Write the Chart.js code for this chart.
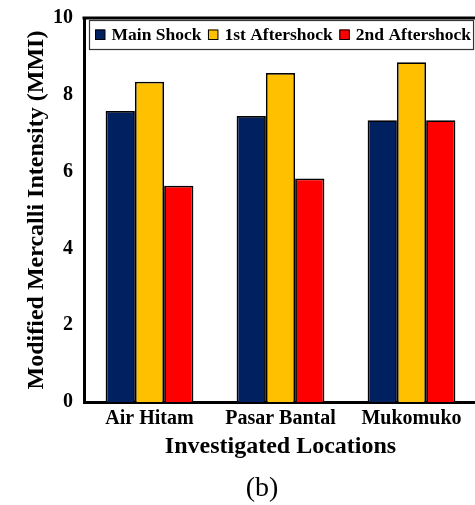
<!DOCTYPE html>
<html>
<head>
<meta charset="utf-8">
<script src="https://cdn.jsdelivr.net/npm/chart.js@4"></script>
<style>
  html, body { margin: 0; padding: 0; background: #fff; overflow: hidden; }
  #wrap { width: 480px; height: 505px; }
</style>
</head>
<body>
<div id="wrap"><canvas id="c" width="480" height="505"></canvas></div>
<script>
// Intensity at each investigated location
const locations = ['Air Hitam', 'Pasar Bantal', 'Mukomuko'];
const mainShock = [7.58, 7.45, 7.34];
const firstAftershock = [8.34, 8.57, 8.85];
const secondAftershock = [5.63, 5.82, 7.34];
const yTicks = [0, 2, 4, 6, 8, 10];

const SERIF = '"Liberation Serif", "Times New Roman", serif';
const serifBold = { family: SERIF, weight: 'bold' };

// Framed legend inside the plot, the top frame line and the panel caption
const frameLegend = {
  id: 'frameLegend',
  afterDraw(chart) {
    const { ctx, chartArea } = chart;
    ctx.save();
    // top border of the plot frame
    ctx.strokeStyle = '#000';
    ctx.lineWidth = 3;
    ctx.beginPath();
    ctx.moveTo(chartArea.left - 1.5, chartArea.top);
    ctx.lineTo(chartArea.right, chartArea.top);
    ctx.stroke();

    // legend box
    const x0 = chartArea.left + 5, y0 = chartArea.top + 2;
    const h = 29;
    ctx.font = 'bold 17.5px ' + SERIF;
    ctx.textBaseline = 'middle';
    const items = chart.data.datasets.map(ds => ({ label: ds.label, color: ds.backgroundColor }));
    let x = x0 + 6;
    const positions = [];
    items.forEach(it => {
      positions.push(x);
      x += 10 + 6.5 + ctx.measureText(it.label).width + 6.5;
    });
    const w = x - 6.5 + 2 - x0;
    ctx.fillStyle = '#fff';
    ctx.fillRect(x0, y0, w, h);
    ctx.lineWidth = 1.2;
    ctx.strokeStyle = '#333';
    ctx.strokeRect(x0 + 0.5, y0 + 0.5, w, h);
    items.forEach((it, i) => {
      const px = positions[i];
      const cy = y0 + h / 2;
      ctx.fillStyle = it.color;
      ctx.fillRect(px, cy - 5, 10, 10);
      ctx.lineWidth = 1;
      ctx.strokeStyle = '#000';
      ctx.strokeRect(px + 0.5, cy - 5 + 0.5, 9.5, 9.5);
      ctx.fillStyle = '#000';
      ctx.fillText(it.label, px + 16.5, cy + 1);
    });

    // panel caption
    ctx.font = 'normal 28px ' + SERIF;
    ctx.textAlign = 'center';
    ctx.textBaseline = 'alphabetic';
    ctx.fillStyle = '#000';
    ctx.fillText('(b)', 262, 496);
    ctx.restore();
  }
};

new Chart(document.getElementById('c'), {
  type: 'bar',
  data: {
    labels: locations,
    datasets: [
      { label: 'Main Shock', data: mainShock, backgroundColor: '#002060' },
      { label: '1st Aftershock', data: firstAftershock, backgroundColor: '#FFC000' },
      { label: '2nd Aftershock', data: secondAftershock, backgroundColor: '#FF0000' }
    ]
  },
  options: {
    responsive: false,
    animation: false,
    devicePixelRatio: 1,
    layout: { padding: { top: 18, right: 3, left: 20, bottom: 40 } },
    datasets: {
      bar: {
        borderColor: '#000',
        borderWidth: 1.8,
        categoryPercentage: 0.67,
        barPercentage: 1.0
      }
    },
    plugins: {
      legend: { display: false },
      tooltip: { enabled: false },
      title: { display: false }
    },
    scales: {
      x: {
        afterFit(axis) { axis.height = 63; },
        grid: { display: false, drawTicks: false },
        border: { display: true, color: '#000', width: 3 },
        ticks: { color: '#000', font: { ...serifBold, size: 20 }, padding: 5 },
        title: {
          display: true,
          text: 'Investigated Locations',
          color: '#000',
          font: { ...serifBold, size: 24 },
          padding: { top: 0, bottom: 3.6 }
        }
      },
      y: {
        min: 0,
        max: 10,
        afterBuildTicks(axis) { axis.ticks = yTicks.map(v => ({ value: v })); },
        afterFit(axis) { axis.width = 64; },
        grid: { display: false, drawOnChartArea: false, drawTicks: true, tickLength: 7, tickColor: '#000', tickWidth: 1 },
        border: { display: true, color: '#000', width: 3 },
        ticks: { color: '#000', font: { ...serifBold, size: 20 }, padding: 4 },
        title: {
          display: true,
          text: 'Modified Mercalli Intensity (MMI)',
          color: '#000',
          font: { ...serifBold, size: 24 },
          padding: { top: 2, bottom: 0 }
        }
      }
    }
  },
  plugins: [frameLegend]
});
</script>
</body>
</html>
